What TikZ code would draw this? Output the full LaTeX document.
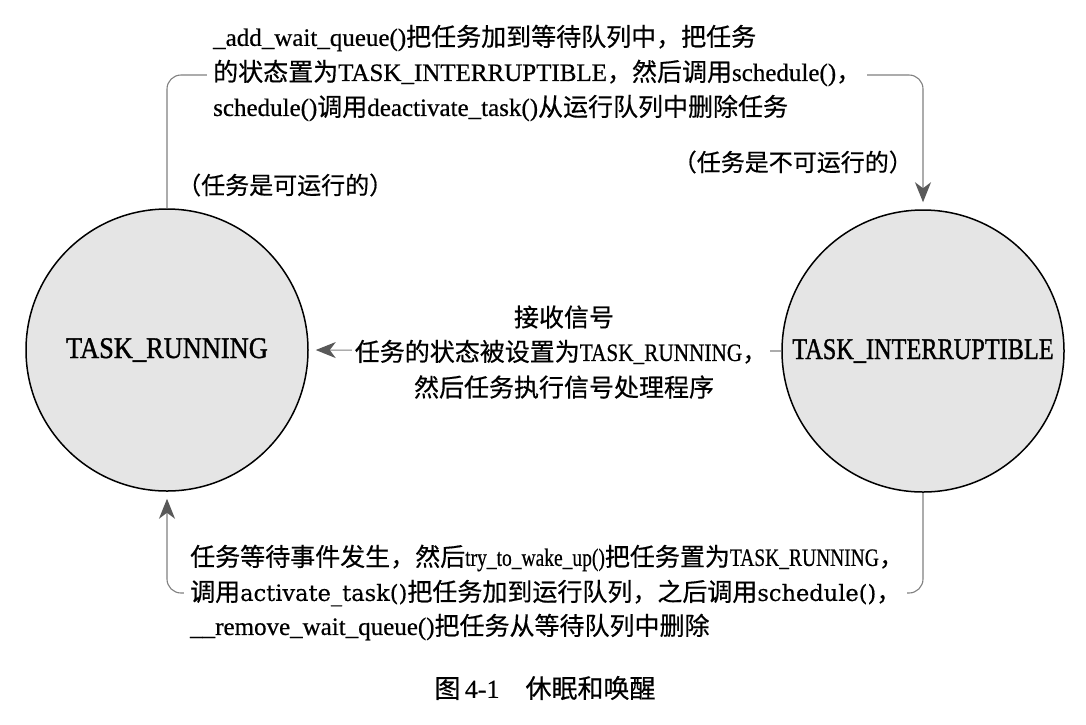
\documentclass[tikz,border=0pt]{standalone}
\usepackage{graphicx}
\usepackage{fontspec}
\setmainfont{Liberation Serif}[FakeBold=0.6]
\newfontfamily\cjk{Noto Sans CJK SC}[FakeBold=0.5]
\newfontfamily\widefont{DejaVu Serif}[FakeBold=0.4]
\newfontfamily\labfont{Liberation Serif}[FakeBold=1.2]
\usetikzlibrary{arrows.meta}
\newcommand\zh[1]{{\cjk #1}}
\newcommand\hs[2]{\scalebox{#1}[1]{#2}}
\newcommand\widetxt[1]{{\widefont\fontsize{22.5}{30}\selectfont #1}}
\tikzset{
  state/.style={circle, draw=black, line width=1.5pt, fill=black!10, minimum size=282pt, inner sep=0pt,
                font=\labfont\fontsize{30}{36}\selectfont},
  conn/.style={draw=black!50, line width=1.1pt},
  arr/.style={-{Stealth[length=20pt,width=16pt,inset=6pt,fill=black!65,color=black!65]}, shorten >=7pt},
  lbl/.style={font=\fontsize{25}{30}\selectfont, inner sep=0pt},
  cover/.style={fill=white, inner xsep=6pt, inner ysep=3pt}
}
\begin{document}
\begin{tikzpicture}[x=1pt,y=-1pt]
\useasboundingbox (0,0) rectangle (1086,724);
% states
\node[state] (L) at (167,350) {\hs{0.88}{TASK\_RUNNING}};
\node[state] (R) at (923,351) {\hs{0.81}{TASK\_INTERRUPTIBLE}};
% corner coordinates
\coordinate (tl) at (167,75);
\coordinate (tr) at (923,75);
\coordinate (bl) at (167,593);
\coordinate (br) at (923,593);
% connectors
\draw[conn,arr,rounded corners=14pt] (L.north) -- (tl) -- (tr) -- (R.north);
\draw[conn,arr,rounded corners=14pt] (R.south) -- (br) -- (bl) -- (L.south);
\draw[conn,arr] (R.west) -- (L.east);
% top text
\node[lbl,anchor=west] (t1) at (213,38) {\_add\_wait\_queue()\zh{把任务加到等待队列中，把任务}};
\node[lbl,cover,anchor=west] (t2) at (207,73) {\zh{的状态置为}TASK\_INTERRUPTIBLE\zh{，然后调用}schedule()\zh{，}};
\node[lbl,anchor=west] (t3) at (213,108) {schedule()\zh{调用}deactivate\_task()\zh{从运行队列中删除任务}};
% state labels
\node[lbl,font=\fontsize{24}{30}\selectfont,anchor=west] (runnable) at (177,185) {\zh{（任务是可运行的）}};
\node[lbl,font=\fontsize{24}{30}\selectfont,anchor=east] (notrunnable) at (913,162) {\zh{（任务是不可运行的）}};
% middle text
\node[lbl] (m1) at (564,317) {\zh{接收信号}};
\node[lbl,cover,inner xsep=3pt] (m2) at (561,352) {\zh{任务的状态被设置为}\hs{0.85}{TASK\_RUNNING}\zh{，}};
\node[lbl] (m3) at (564,387) {\zh{然后任务执行信号处理程序}};
% bottom text
\node[lbl,anchor=west] (b1) at (190,558) {\zh{任务等待事件发生，然后}\hs{0.78}{try\_to\_wake\_up()}\zh{把任务置为}\hs{0.78}{TASK\_RUNNING}\zh{，}};
\node[lbl,cover,anchor=west] (b2) at (184,593) {\zh{调用}\widetxt{activate\_task()}\zh{把任务加到运行队列，之后调用}\widetxt{schedule()}\zh{，}};
\node[lbl,anchor=west] (b3) at (190,627) {\_\_remove\_wait\_queue()\zh{把任务从等待队列中删除}};
% caption
\node[lbl,font=\fontsize{26}{30}\selectfont] (cap) at (545,688) {\zh{图}\,4-1\quad\zh{休眠和唤醒}};
\end{tikzpicture}
\end{document}
